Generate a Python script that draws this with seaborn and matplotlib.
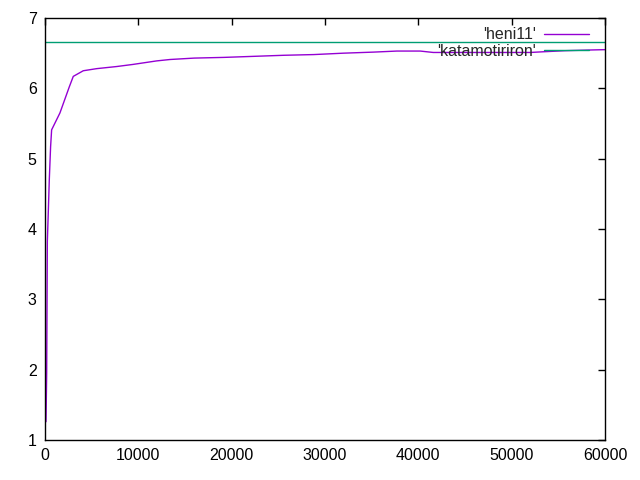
import numpy as np
import pandas as pd
import matplotlib
matplotlib.use('Agg')
import matplotlib.pyplot as plt
import seaborn as sns

# values
heni11_x = [107, 180, 250, 360, 460, 600, 710, 1600, 2600, 3030, 4100, 5540,
            7680, 9430, 11960, 13400, 16000, 19200, 22400, 25600, 28800, 32000,
            35200, 37700, 40200, 41600, 44000, 47000, 50000, 52000, 53400,
            55700, 58400, 60000]
heni11_y = [1.26, 1.95, 3.82, 4.27, 4.70, 5.17, 5.41, 5.65, 6.02, 6.17, 6.25,
            6.28, 6.31, 6.34, 6.39, 6.41, 6.43, 6.44, 6.455, 6.47, 6.48, 6.50,
            6.515, 6.53, 6.53, 6.51, 6.51, 6.51, 6.51, 6.51, 6.52, 6.535,
            6.545, 6.55]
kata_x = [0, 60000]
kata_y = [6.665, 6.665]

x_ticks = [0, 10000, 20000, 30000, 40000, 50000, 60000]
y_ticks = [1, 2, 3, 4, 5, 6, 7]

sns.set_style('white')
plt.rcParams['font.family'] = ['Liberation Sans', 'DejaVu Sans']

heni = pd.DataFrame({'x': heni11_x, 'y': heni11_y})
kata = pd.DataFrame({'x': kata_x, 'y': kata_y})

fig = plt.figure(figsize=(6.4, 4.8), dpi=100)
ax = fig.add_axes([45 / 640, 1 - 440 / 480, 560 / 640, 422 / 480])

sns.lineplot(data=heni, x='x', y='y', ax=ax, color='#9400d3', lw=1,
             estimator=None, label="'heni11'")
sns.lineplot(data=kata, x='x', y='y', ax=ax, color='#009e73', lw=1,
             estimator=None, label="'katamotiriron'")

ax.set_xlim(0, 60000)
ax.set_ylim(1, 7)
ax.set_xticks(x_ticks)
ax.set_yticks(y_ticks)
ax.set_xlabel('')
ax.set_ylabel('')
ax.tick_params(direction='in', length=5, width=1, top=True, right=True,
               labelsize=11.5, colors='black', pad=6)
for s in ax.spines.values():
    s.set_color('black')
    s.set_linewidth(1)

# gnuplot style key: text first, sample after, no box
ax.legend(loc='upper right', bbox_to_anchor=(1 - 5 / 560, 1 + 2 / 422),
          frameon=False, markerfirst=False,
          fontsize=11.5, handlelength=2.8, handletextpad=0.5,
          labelspacing=0.1, borderaxespad=0.3)

fig.savefig('out.png', dpi=100)
